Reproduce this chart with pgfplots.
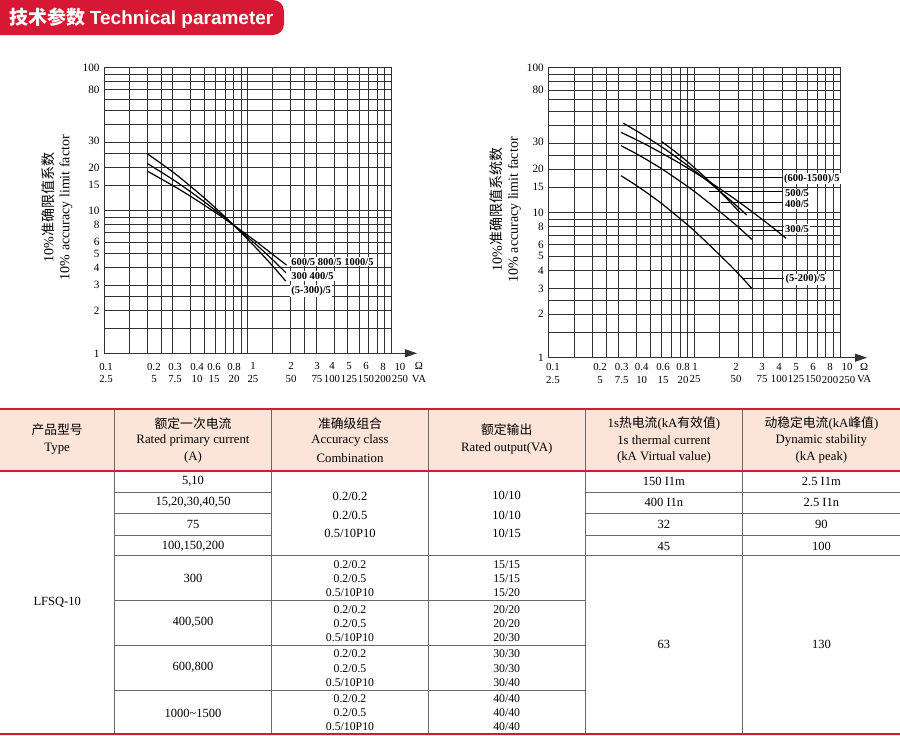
\documentclass[border=0pt]{standalone}
\usepackage{fontspec}
\setmainfont{Liberation Serif}
\newfontfamily\cjk{Noto Sans CJK SC}
\newfontfamily\hsans{Liberation Sans}
\usepackage{pgfplots}
\pgfplotsset{compat=1.18}
\usetikzlibrary{arrows.meta}
\definecolor{hred}{RGB}{214,24,52}
\definecolor{hpink}{RGB}{252,229,216}
\definecolor{gridc}{RGB}{50,50,50}
\definecolor{tline}{RGB}{105,105,105}

\begin{document}
\begin{tikzpicture}
\path[use as bounding box] (0pt,0pt) rectangle (900pt,-736pt);

\begin{scope}[x=1pt,y=-1pt]
  % header badge
  \fill[hred, rounded corners=11pt] (-30,0) rectangle (284,35);
  \node[text=white, anchor=west, font=\fontsize{19}{22}\selectfont\bfseries, inner sep=0pt] at (9,18)
    {{\cjk 技术参数} {\hsans\bfseries Technical parameter}};

  % table
  \fill[hpink] (0,409) rectangle (900,470.7);
  \foreach \xx in {114.3,271.7,428.3,585,742.7}
    \draw[tline, line width=0.8pt] (\xx,409) -- (\xx,734);
  \foreach \yy in {492.3,513.3,535}{
    \draw[tline, line width=0.8pt] (114.3,\yy) -- (271.7,\yy);
    \draw[tline, line width=0.8pt] (585,\yy) -- (900,\yy);
  }
  \draw[tline, line width=0.8pt] (114.3,555) -- (900,555);
  \foreach \yy in {600.7,645.7,690}
    \draw[tline, line width=0.8pt] (114.3,\yy) -- (585,\yy);
  \draw[hred, line width=2.2pt] (0,409) -- (900,409);
  \draw[hred, line width=2.2pt] (0,470.7) -- (900,470.7);
  \draw[hred, line width=2.2pt] (0,734) -- (900,734);

  \begin{scope}[every node/.style={font=\fontsize{12.8}{15}\selectfont, inner sep=0pt}]
    \node at (57.2,430) {\cjk 产品型号};
    \node at (57.2,448.3) {Type};
    \node at (193,423.3) {\cjk 额定一次电流};
    \node at (193,440) {Rated primary current};
    \node at (193,457.7) {(A)};
    \node at (350,423.3) {\cjk 准确级组合};
    \node at (350,440) {Accuracy class};
    \node at (350,457.7) {Combination};
    \node at (506.7,430) {\cjk 额定输出};
    \node at (506.7,448.3) {Rated output(VA)};
    \node at (663.9,423.3) {1s{\cjk 热电流}(kA{\cjk 有效值})};
    \node at (663.9,440) {1s thermal current};
    \node at (663.9,457.7) {(kA Virtual value)};
    \node at (821.4,423.3) {{\cjk 动稳定电流}(kA{\cjk 峰值})};
    \node at (821.4,440) {Dynamic stability};
    \node at (821.4,457.7) {(kA peak)};
  \end{scope}
  \begin{scope}[every node/.style={font=\fontsize{12.5}{15}\selectfont, inner sep=0pt}]
    % body upper block
    \node at (193,481) {5,10};
    \node at (193,502.7) {15,20,30,40,50};
    \node at (193,524.3) {75};
    \node at (193,546) {100,150,200};
    \node at (350,496.7) {0.2/0.2};
    \node at (350,515) {0.2/0.5};
    \node at (350,533.3) {0.5/10P10};
    \node at (506.7,495.5) {10/10};
    \node at (506.7,515) {10/10};
    \node at (506.7,533.3) {10/15};
    \node at (663.9,481) {150 I1m};
    \node at (663.9,502.7) {400 I1n};
    \node at (663.9,524.3) {32};
    \node at (663.9,546) {45};
    \node at (821.4,481) {2.5 I1m};
    \node at (821.4,502.7) {2.5 I1n};
    \node at (821.4,524.3) {90};
    \node at (821.4,546) {100};
    \node at (663.9,644) {63};
    \node at (821.4,644) {130};
    \node at (57.2,602.7) {LFSQ-10};
    \node at (193,578.3) {300};
    \node at (193,622.7) {400,500};
    \node at (193,667.3) {600,800};
    \node at (193,713.3) {1000\string~1500};
  \end{scope}
  \begin{scope}[every node/.style={font=\fontsize{11.8}{13}\selectfont, inner sep=0pt}]
    \foreach \ya/\yb/\yc/\oa/\ob/\oc in {565/578.3/592.3/15/15/20, 609.3/623.3/637.5/20/20/30, 654/668.3/682.5/30/30/40, 698.7/713/727/40/40/40}{
      \node at (350,\ya) {0.2/0.2};
      \node at (350,\yb) {0.2/0.5};
      \node at (350,\yc) {0.5/10P10};
      \node at (506.7,\ya) {\oa/\oa};
      \node at (506.7,\yb) {\ob/\ob};
      \node at (506.7,\yc) {\ob/\oc};
    }
  \end{scope}
\end{scope}

% ---------------- left chart ----------------
\begin{axis}[
  at={(104pt,-353.3pt)}, anchor=south west, scale only axis,
  width=287pt, height=285.6pt,
  xmode=log, ymode=log,
  xmin=0.1, xmax=10, ymin=1, ymax=100,
  clip=false,
  axis line style={gridc, line width=0.8pt},
  major tick length=0pt, minor tick length=0pt,
  minor xtick={0.1,0.15,0.2,0.25,0.3,0.4,0.5,0.6,0.7,0.8,0.9,1,1.5,2,2.5,3,4,5,6,7,8,9,10},
  minor ytick={1,1.5,2,2.5,3,4,5,6,7,8,9,10,15,20,25,30,40,50,60,70,80,90,100},
  xminorgrids=true, yminorgrids=true,
  xmajorgrids=false, ymajorgrids=false,
  minor grid style={gridc, line width=0.75pt},
  tick label style={font=\fontsize{11.2}{12.6}\selectfont},
  xticklabel style={font=\fontsize{10.8}{12.6}\selectfont, align=center, yshift=-6pt, inner xsep=0pt},
  xtick={0.1033,0.223,0.3125,0.4448,0.5843,0.8054,1.092,2.01,3.05,3.88,5.096,6.695,8.798},
  xticklabels={{0.1\\2.5},{0.2\\5},{0.3\\7.5},{0.4\\10},{0.6\\15},{0.8\\20},{1\\25},{2\\50},{3\\75},{4\\100},{5\\125},{6\\150},{8\\200}},
  ytick={1,2,3,4,5,6,8,10,15,20,31,70,100},
  yticklabels={1,2,3,4,5,6,8,10,15,20,30,80,100},
  yticklabel style={xshift=-1pt},
  ylabel={10\%{\cjk 准确限值系数}\\10\% accuracy limit factor},
  ylabel style={align=center, font=\fontsize{14}{16}\selectfont, anchor=south, at={(axis description cs:-0.098,0.51)}},
]
\addplot[black, line width=1.2pt, smooth] coordinates {(0.2,25) (0.3,18.7) (0.4,14.8) (0.5,12.25) (0.6,10.4) (0.7,9.0) (0.8,7.9) (1.0,6.31) (1.2,5.21) (1.5,4.08) (1.85,3.2)};
\addplot[black, line width=1.2pt, smooth] coordinates {(0.2,21.4) (0.3,16.55) (0.4,13.56) (0.5,11.5) (0.6,10.0) (0.7,8.83) (0.8,7.9) (1.0,6.53) (1.2,5.55) (1.5,4.51) (1.85,3.67)};
\addplot[black, line width=1.2pt, smooth] coordinates {(0.2,18.9) (0.3,15.0) (0.4,12.6) (0.5,10.9) (0.6,9.66) (0.7,8.69) (0.8,7.9) (1.0,6.72) (1.2,5.86) (1.5,4.92) (1.87,4.15)};
\draw[gridc, line width=0.8pt, -{Triangle[length=12pt,width=8pt]}] (rel axis cs:1,0) -- ++(26pt,0pt);
\node[anchor=north, align=center, font=\fontsize{10.8}{12.6}\selectfont, yshift=-6pt, inner ysep=0.333em, inner xsep=0pt] at (axis cs:11.55,1) {10\\250};
\node[anchor=north, align=center, font=\fontsize{10.8}{12.6}\selectfont, yshift=-6pt, inner ysep=0.333em, inner xsep=0pt] at (axis cs:15.67,1) {Ω\\VA};
\begin{scope}[every node/.style={font=\fontsize{10.5}{12}\selectfont\bfseries, inner sep=1pt, anchor=west, fill=white}]
  \node at (axis cs:1.98,4.38) {600/5 800/5 1000/5};
  \node at (axis cs:1.98,3.48) {300 400/5};
  \node at (axis cs:1.98,2.73) {(5-300)/5};
\end{scope}
\end{axis}

% ---------------- right chart ----------------
\begin{axis}[
  at={(548.3pt,-357.7pt)}, anchor=south west, scale only axis,
  width=291.7pt, height=290pt,
  xmode=log, ymode=log,
  xmin=0.1, xmax=10, ymin=1, ymax=100,
  clip=false,
  axis line style={gridc, line width=0.8pt},
  major tick length=0pt, minor tick length=0pt,
  minor xtick={0.1,0.15,0.2,0.25,0.3,0.4,0.5,0.6,0.7,0.8,0.9,1,1.5,2,2.5,3,4,5,6,7,8,9,10},
  minor ytick={1,1.5,2,2.5,3,4,5,6,7,8,9,10,15,20,25,30,40,50,60,70,80,90,100},
  xminorgrids=true, yminorgrids=true,
  xmajorgrids=false, ymajorgrids=false,
  minor grid style={gridc, line width=0.75pt},
  tick label style={font=\fontsize{11.2}{12.6}\selectfont},
  xticklabel style={font=\fontsize{10.8}{12.6}\selectfont, align=center, yshift=-2pt, inner xsep=0pt},
  xtick={0.1077,0.2262,0.3187,0.4371,0.6118,0.839,1.014,1.939,2.922,3.822,5.0,6.54,8.55},
  xticklabels={{0.1\\2.5},{0.2\\5},{0.3\\7.5},{0.4\\10},{0.6\\15},{0.8\\20},{1\\25},{2\\50},{3\\75},{4\\100},{5\\125},{6\\150},{8\\200}},
  ytick={1,2,3,4,5,6,8,10,15,20,31,70,100},
  yticklabels={1,2,3,4,5,6,8,10,15,20,30,80,100},
  yticklabel style={xshift=-1pt},
  ylabel={10\%{\cjk 准确限值系统数}\\10\% accuracy limit factor},
  ylabel style={align=center, font=\fontsize{14}{16}\selectfont, anchor=south, at={(axis description cs:-0.082,0.51)}},
]
% C1
\addplot[black, line width=1.2pt, smooth] coordinates {(0.327,41.4) (0.4117,36.17) (0.498,32.1) (0.6524,26.8) (0.9216,20.84) (1.302,15.85) (1.839,11.79) (2.295,9.64)};
% C5
\addplot[black, line width=1.2pt, smooth] coordinates {(0.6,30.9) (0.755,25.96) (0.951,21.44) (1.197,17.43) (1.429,14.7) (1.691,12.39) (2.065,10.0)};
% C2 (long)
\addplot[black, line width=1.2pt, smooth] coordinates {(0.315,35.8) (0.3966,32.05) (0.498,28.5) (0.791,22.0) (1.256,16.5) (1.99,12.02) (3.15,8.5) (4.27,6.66)};
% C3
\addplot[black, line width=1.2pt, smooth] coordinates {(0.315,29.0) (0.3966,25.67) (0.498,22.5) (0.6285,19.45) (0.996,14.1) (1.572,9.78) (1.99,8.02) (2.48,6.55)};
% C4
\addplot[black, line width=1.2pt, smooth] coordinates {(0.315,18.0) (0.3966,15.54) (0.498,13.25) (0.6285,11.12) (0.996,7.55) (1.572,4.87) (1.99,3.84) (2.48,3.01)};
\draw[gridc, line width=0.8pt, -{Triangle[length=12pt,width=8pt]}] (rel axis cs:1,0) -- ++(27pt,0pt);
\node[anchor=north, align=center, font=\fontsize{10.8}{12.6}\selectfont, yshift=-2pt, inner ysep=0.333em, inner xsep=0pt] at (axis cs:11.19,1) {10\\250};
\node[anchor=north, align=center, font=\fontsize{10.8}{12.6}\selectfont, yshift=-2pt, inner ysep=0.333em, inner xsep=0pt] at (axis cs:14.63,1) {Ω\\VA};
% leader lines
\draw[black, line width=0.7pt] (axis cs:1.143,17.6) -- (axis cs:4.06,17.6);
\draw[black, line width=0.7pt] (axis cs:1.26,14.0) -- (axis cs:4.06,14.0);
\draw[black, line width=0.7pt] (axis cs:1.52,11.7) -- (axis cs:4.06,11.7);
\draw[black, line width=0.7pt] (axis cs:2.4,7.5) -- (axis cs:4.06,7.5);
\draw[black, line width=0.7pt] (axis cs:2.12,3.5) -- (axis cs:4.1,3.5);
\begin{scope}[every node/.style={font=\fontsize{10.5}{12}\selectfont\bfseries, inner sep=1pt, anchor=west, fill=white}]
  \node at (axis cs:4.06,17.2) {(600-1500)/5};
  \node at (axis cs:4.12,13.6) {500/5};
  \node at (axis cs:4.12,11.45) {400/5};
  \node at (axis cs:4.12,7.75) {300/5};
  \node at (axis cs:4.16,3.47) {(5-200)/5};
\end{scope}
\end{axis}
\end{tikzpicture}
\end{document}
